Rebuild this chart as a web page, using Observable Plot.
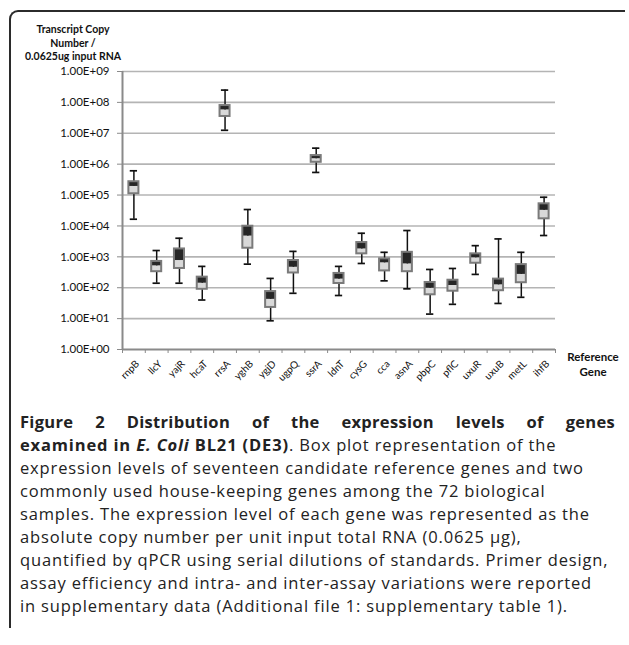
<!DOCTYPE html>
<html>
<head>
<meta charset="utf-8">
<script src="https://cdn.jsdelivr.net/npm/d3@7"></script>
<script src="https://cdn.jsdelivr.net/npm/@observablehq/plot@0.6"></script>
<style>
  html, body { margin: 0; padding: 0; background: #fff; }
  body { width: 629px; height: 645px; position: relative; overflow: hidden; }
  #frame { position: absolute; left: 9px; top: 10px; width: 616px; height: 618px;
           border-left: 2px solid #2b2b2b; border-top: 2px solid #2b2b2b;
           border-top-left-radius: 9px; box-sizing: border-box; z-index: 5; pointer-events: none; }
  #chart { position: absolute; left: 0; top: 0; }
  #ytitle { position: absolute; left: 18px; top: 23px; width: 110px; text-align: center;
            font-family: Lato, sans-serif; font-weight: bold; font-size: 10.5px; line-height: 13.5px; color: #111; }
  #xtitle { position: absolute; left: 561px; top: 349px; width: 64px; text-align: center;
            font-family: Lato, sans-serif; font-weight: bold; font-size: 11.5px; line-height: 15px; color: #111; }
  #caption { position: absolute; left: 20px; top: 410px; width: 595px;
             font-family: "Open Sans", sans-serif; font-size: 16.5px; letter-spacing: 0.85px; line-height: 23px; color: #222; }
  #caption .l { white-space: nowrap; }
  #caption .j { text-align: justify; text-align-last: justify; white-space: normal; letter-spacing: 0.3px; }
</style>
</head>
<body>
<div id="frame"></div>
<div id="chart"></div>
<div id="ytitle">Transcript Copy<br>Number /<br>0.0625ug input RNA</div>
<div id="xtitle">Reference<br>Gene</div>
<div id="caption">
  <div class="j"><b>Figure 2 Distribution of the expression levels of genes</b></div>
  <div class="l"><b>examined in <i>E. Coli</i> BL21 (DE3)</b>. Box plot representation of the</div>
  <div class="l">expression levels of seventeen candidate reference genes and two</div>
  <div class="l">commonly used house-keeping genes among the 72 biological</div>
  <div class="l">samples. The expression level of each gene was represented as the</div>
  <div class="l">absolute copy number per unit input total RNA (0.0625 µg),</div>
  <div class="l">quantified by qPCR using serial dilutions of standards. Primer design,</div>
  <div class="l">assay efficiency and intra- and inter-assay variations were reported</div>
  <div class="l">in supplementary data (Additional file 1: supplementary table 1).</div>
</div>
<script>
const genes = ["rnpB","llcY","yajR","hcaT","rrsA","yghB","ygjD","ugpQ","ssrA","ldnT","cysG","cca","asnA","pbpC","pflC","uxuR","uxuB","metL","ihfB"];
const minVals    = [1.65e4, 140, 140, 40, 1.25e7, 580, 8.5, 66, 5.4e5, 56, 610, 167, 92, 14, 29, 270, 31, 49, 4900];
const q1Vals     = [1.1e5, 330, 420, 89, 3.5e7, 1900, 23, 300, 1.15e6, 137, 1250, 350, 330, 59, 77, 620, 80, 145, 1.7e4];
const medianVals = [1.9e5, 510, 760, 140, 5.7e7, 4700, 42, 460, 1.5e6, 190, 1800, 640, 590, 96, 118, 930, 124, 270, 3.2e4];
const q3Vals     = [2.7e5, 710, 1800, 220, 7.9e7, 9800, 75, 760, 1.9e6, 290, 2900, 860, 1400, 148, 175, 1250, 190, 560, 5.2e4];
const maxVals    = [6.1e5, 1600, 4000, 490, 2.5e8, 3.4e4, 200, 1500, 3.3e6, 490, 5800, 1400, 7100, 390, 420, 2300, 3800, 1400, 8.5e4];
const yTicks = [1, 1e1, 1e2, 1e3, 1e4, 1e5, 1e6, 1e7, 1e8, 1e9];
const yTickLabels = ["1.00E+00","1.00E+01","1.00E+02","1.00E+03","1.00E+04","1.00E+05","1.00E+06","1.00E+07","1.00E+08","1.00E+09"];

const data = genes.map((g, i) => ({
  gene: g, c: i + 0.5,
  min: minVals[i], q1: q1Vals[i], med: medianVals[i], q3: q3Vals[i], max: maxVals[i]
}));
const boxHalf = 0.22, capHalf = 0.16;

const chart = Plot.plot({
  width: 629, height: 400,
  marginLeft: 122, marginRight: 74, marginTop: 71, marginBottom: 51,
  style: { fontFamily: "Lato, sans-serif", background: "transparent", overflow: "visible" },
  x: { type: "linear", domain: [0, genes.length], axis: null, label: null },
  y: { type: "log", domain: [1, 1e9], axis: null, label: null },
  marks: [
    Plot.ruleY(yTicks.slice(1), { stroke: "#b4b4b4", strokeWidth: 1.6 }),
    Plot.ruleY([1], { stroke: "#8a8a8a", strokeWidth: 2 }),
    Plot.ruleX([0], { stroke: "#8a8a8a", strokeWidth: 2 }),
    Plot.axisY(yTicks, { label: null, tickSize: 5, tickPadding: 8, fontSize: 11.5, stroke: "#8a8a8a", fill: "#111",
      tickFormat: (d) => yTickLabels[yTicks.indexOf(d)] }),
    Plot.axisX(d3.range(genes.length + 1), { label: null, tickSize: 4, tickFormat: () => "", stroke: "#8a8a8a" }),
    Plot.text(data, { x: "c", text: "gene", frameAnchor: "bottom", rotate: -45, textAnchor: "end",
      dx: 6, dy: 15, fontSize: 10, fill: "#111" }),
    // whiskers
    Plot.ruleX(data, { x: "c", y1: "min", y2: "max", stroke: "#111", strokeWidth: 1.5 }),
    Plot.ruleY(data, { y: "max", x1: d => d.c - capHalf, x2: d => d.c + capHalf, stroke: "#111", strokeWidth: 1.7 }),
    Plot.ruleY(data, { y: "min", x1: d => d.c - capHalf, x2: d => d.c + capHalf, stroke: "#111", strokeWidth: 1.7 }),
    // boxes
    Plot.rect(data, { x1: d => d.c - boxHalf, x2: d => d.c + boxHalf, y1: "q1", y2: "med", fill: "#d9d9d9" }),
    Plot.rect(data, { x1: d => d.c - boxHalf, x2: d => d.c + boxHalf, y1: "med", y2: "q3", fill: "#262626" }),
    Plot.rect(data, { x1: d => d.c - boxHalf, x2: d => d.c + boxHalf, y1: "q1", y2: "q3", fill: "none", stroke: "#7a7a7a", strokeWidth: 2 })
  ]
});
document.getElementById("chart").appendChild(chart);
</script>
</body>
</html>
